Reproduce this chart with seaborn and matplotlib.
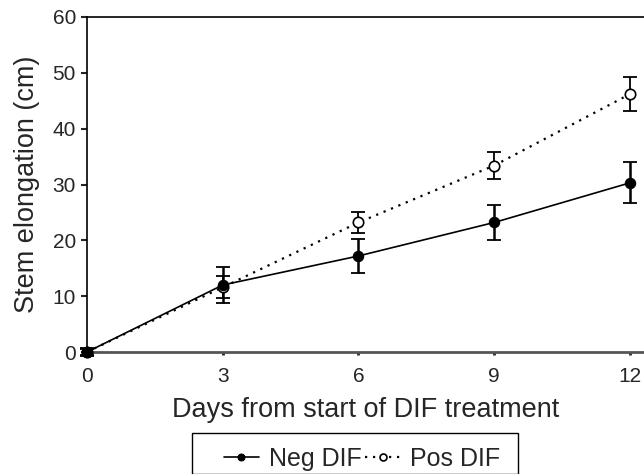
import matplotlib
matplotlib.use("Agg")
import matplotlib.pyplot as plt
import matplotlib.patches as mpatches
import seaborn as sns
import pandas as pd
import numpy as np

days = [0, 3, 6, 9, 12]
neg_dif = [0.0, 12.0, 17.2, 23.2, 30.3]
neg_err = [0.8, 3.2, 3.0, 3.2, 3.7]
pos_dif = [0.0, 11.6, 23.2, 33.4, 46.2]
pos_err = [0.6, 2.0, 1.9, 2.4, 3.0]
series_names = ["Neg DIF", "Pos DIF"]
y_ticks = [0, 10, 20, 30, 40, 50, 60]
x_ticks = [0, 3, 6, 9, 12]

sns.set_style("ticks")
plt.rcParams['font.family'] = ['Liberation Sans', 'DejaVu Sans']

df_neg = pd.DataFrame({"day": days, "val": neg_dif, "err": neg_err})
df_pos = pd.DataFrame({"day": days, "val": pos_dif, "err": pos_err})

W, H = 644, 474
fig = plt.figure(figsize=(W/100, H/100), dpi=100)
ax = fig.add_axes([87/W, 1-352/H, 1-87/W, (352-17)/H])

sns.lineplot(data=df_pos, x="day", y="val", ax=ax, color="black",
             linestyle=(0, (1, 2.6)), lw=1.6, marker="o", markersize=7.5,
             markerfacecolor="white", markeredgecolor="black", markeredgewidth=1.2,
             label=series_names[1], clip_on=False, zorder=3)
sns.lineplot(data=df_neg, x="day", y="val", ax=ax, color="black",
             linestyle="-", lw=1.2, marker="o", markersize=7.5,
             markerfacecolor="black", markeredgecolor="black",
             label=series_names[0], clip_on=False, zorder=4)

ax.errorbar(df_pos["day"], df_pos["val"], yerr=df_pos["err"], fmt="none",
            ecolor="black", elinewidth=1.3, capsize=5, capthick=1.3, zorder=2, clip_on=False)
ax.errorbar(df_neg["day"], df_neg["val"], yerr=df_neg["err"], fmt="none",
            ecolor="black", elinewidth=1.8, capsize=5, capthick=1.3, zorder=2, clip_on=False)

ax.set_xlim(0, 12.31)
ax.set_ylim(0, 60)
ax.set_xticks(x_ticks)
ax.set_yticks(y_ticks)
ax.tick_params(axis="y", direction="out", length=4, width=1.5, labelsize=15, pad=4)
ax.tick_params(axis="x", direction="out", length=2, width=2, labelsize=15, pad=9)
for s in ["left", "top"]:
    ax.spines[s].set_color("black")
    ax.spines[s].set_linewidth(1.2)
ax.spines["bottom"].set_color("#555555")
ax.spines["bottom"].set_linewidth(2)
ax.spines["right"].set_visible(False)

ax.set_xlabel("Days from start of DIF treatment", fontsize=19.5, labelpad=8)
ax.set_ylabel("Stem elongation (cm)", fontsize=19.5, labelpad=9)

handles, labels = ax.get_legend_handles_labels()
order = [labels.index(n) for n in series_names]
if ax.get_legend():
    ax.get_legend().remove()
box_left, box_top = 192, 433
leg = fig.legend([handles[i] for i in order], [labels[i] for i in order],
                 loc="upper left", bbox_to_anchor=((box_left + 18)/W, 1-box_top/H),
                 ncol=2, fontsize=18, frameon=False,
                 handlelength=1.4, handletextpad=0.4, columnspacing=0.15,
                 borderpad=0.55, borderaxespad=0)
for h in leg.legend_handles:
    h.set_markersize(5)

fig.canvas.draw()
bb = leg.get_window_extent()
right = bb.x1 + 4
rect = mpatches.Rectangle((box_left/W, 0.0), (right - box_left)/W, 1-box_top/H,
                          transform=fig.transFigure, fill=False,
                          edgecolor="black", linewidth=1.0)
fig.patches.append(rect)

fig.savefig("out.png", dpi=100)
